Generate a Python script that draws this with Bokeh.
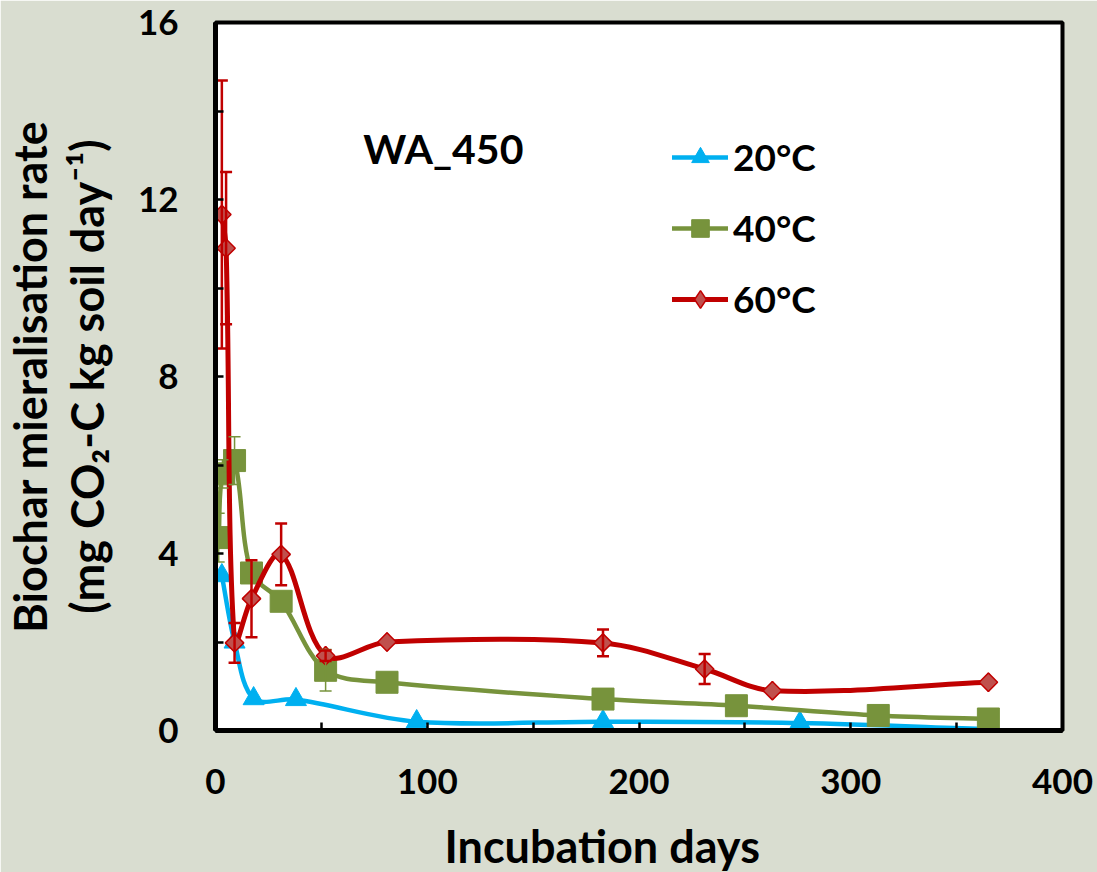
import math
import numpy as np
from bokeh.plotting import figure
from bokeh.models import (ColumnDataSource, FixedTicker, Label, Legend,
                          LegendItem, Whisker, TeeHead, Title)
from bokeh.embed import file_html
from bokeh.resources import INLINE

# ---------------- data ----------------
days_20 = [3, 9, 18, 38, 95, 183, 276, 365]
rate_20 = [3.5, 2.0, 0.72, 0.70, 0.20, 0.20, 0.17, 0.03]

days_40 = [1.5, 3.3, 9, 17, 31, 52, 81, 183, 246, 313, 365]
rate_40 = [4.36, 5.80, 6.10, 3.56, 2.92, 1.36, 1.09, 0.71, 0.56, 0.34, 0.26]
err_40 = [0.55, 0.32, 0.54, 0.0, 0.0, 0.47, 0.0, 0.0, 0.0, 0.0, 0.0]

days_60 = [3, 5, 9, 17, 31, 52, 81, 183, 231, 263, 365]
rate_60 = [11.66, 10.90, 1.98, 2.98, 3.98, 1.69, 2.00, 1.98, 1.39, 0.90, 1.09]
err_60 = [3.03, 1.72, 0.45, 0.87, 0.70, 0.12, 0.0, 0.30, 0.34, 0.0, 0.0]

series_names = ["20°C", "40°C", "60°C"]
x_ticks = [0, 100, 200, 300, 400]
x_minor = [50, 150, 250, 350]
y_ticks = [0, 4, 8, 12, 16]
y_minor = [2, 6, 10, 14]

# ---------------- layout constants ----------------
W_, H_ = 1097, 872
L, R, T, B = 214, 1062, 22, 731          # frame edges (canvas px)
XMAX, YMAX = 400, 16
PXX = (R - L) / XMAX
PXY = (B - T) / YMAX
BG = "#D9DDD0"
FONT = "Lato"

BLUE, GREEN, RED, RED_FILL = "#00B0F0", "#77933C", "#C00000", "#C0504D"


def dx(px):
    return (px - L) / PXX


def dy(py):
    return (B - py) / PXY


def excel_smooth(xs, ys, f=1.0 / 3.0):
    """Bezier control points similar to Excel's smoothed line."""
    X = np.asarray(xs, float) * PXX
    Y = np.asarray(ys, float) * PXY
    n = len(X)
    pts = np.column_stack([X, Y])
    out = {k: [] for k in ("x0", "y0", "x1", "y1", "cx0", "cy0", "cx1", "cy1")}
    for i in range(n - 1):
        p0 = pts[max(i - 1, 0)]
        p1 = pts[i]
        p2 = pts[i + 1]
        p3 = pts[min(i + 2, n - 1)]
        d01 = np.linalg.norm(p1 - p0)
        d12 = np.linalg.norm(p2 - p1)
        d23 = np.linalg.norm(p3 - p2)
        f1 = f * d12 / (d01 + d12) if (d01 + d12) > 0 else 0
        f2 = f * d12 / (d12 + d23) if (d12 + d23) > 0 else 0
        c1 = p1 + f1 * (p2 - p0)
        c2 = p2 - f2 * (p3 - p1)
        out["x0"].append(p1[0] / PXX); out["y0"].append(p1[1] / PXY)
        out["x1"].append(p2[0] / PXX); out["y1"].append(p2[1] / PXY)
        out["cx0"].append(c1[0] / PXX); out["cy0"].append(c1[1] / PXY)
        out["cx1"].append(c2[0] / PXX); out["cy1"].append(c2[1] / PXY)
    return ColumnDataSource(out)


p = figure(width=W_, height=H_, x_range=(0, XMAX), y_range=(0, YMAX),
           output_backend="svg", toolbar_location=None,
           min_border_left=L, min_border_right=W_ - R,
           min_border_top=T, min_border_bottom=H_ - B)
p.background_fill_color = "white"
p.border_fill_color = BG
p.outline_line_color = "black"
p.outline_line_width = 4
p.xgrid.visible = False
p.ygrid.visible = False

for ax, tk, mn in ((p.xaxis, x_ticks, x_minor), (p.yaxis, y_ticks, y_minor)):
    ax.ticker = FixedTicker(ticks=tk, minor_ticks=mn)
    ax.axis_line_color = "black"
    ax.axis_line_width = 5
    ax.major_tick_in = 8
    ax.major_tick_out = 0
    ax.minor_tick_in = 8
    ax.minor_tick_out = 0
    ax.major_tick_line_width = 2.5
    ax.minor_tick_line_width = 2.5
    ax.major_label_text_font = FONT
    ax.major_label_text_font_style = "bold"
    ax.major_label_text_font_size = "35px"
    ax.major_label_text_color = "black"
p.xaxis.major_label_standoff = 38
p.yaxis.major_label_standoff = 37

# blank x-axis label only reserves room so the title below sits lower
p.xaxis.axis_label = " "
p.xaxis.axis_label_standoff = 16
p.xaxis.axis_label_text_font_size = "1px"

# second line of the y title as the axis label
p.yaxis.axis_label = "(mg CO\u2082-C kg soil day\u207b\u00b9)"
p.yaxis.axis_label_standoff = 21
p.yaxis.axis_label_text_font = FONT
p.yaxis.axis_label_text_font_style = "bold"
p.yaxis.axis_label_text_font_size = "45px"
p.yaxis.axis_label_text_color = "black"

legend_items = []

# ---- 20 °C
s20 = excel_smooth(days_20, rate_20)
b20 = p.bezier("x0", "y0", "x1", "y1", "cx0", "cy0", "cx1", "cy1", source=s20,
               line_color=BLUE, line_width=4.5, line_cap="round")
m20 = p.scatter(days_20, rate_20, marker="triangle", size=21,
                fill_color=BLUE, line_color=BLUE)
legend_items.append(LegendItem(label=series_names[0], renderers=[b20, m20]))

# ---- 40 °C
s40 = excel_smooth(days_40, rate_40)
b40 = p.bezier("x0", "y0", "x1", "y1", "cx0", "cy0", "cx1", "cy1", source=s40,
               line_color=GREEN, line_width=4.5, line_cap="round")
e40 = [(d, r, e) for d, r, e in zip(days_40, rate_40, err_40) if e > 0]
w40 = ColumnDataSource(dict(x=[a[0] for a in e40],
                            lo=[a[1] - a[2] for a in e40],
                            hi=[a[1] + a[2] for a in e40]))
p.add_layout(Whisker(source=w40, base="x", upper="hi", lower="lo",
                     line_color=GREEN, line_width=1.5, level="glyph",
                     upper_head=TeeHead(size=12, line_color=GREEN, line_width=1.5),
                     lower_head=TeeHead(size=12, line_color=GREEN, line_width=1.5)))
m40 = p.scatter(days_40, rate_40, marker="square", size=22,
                fill_color=GREEN, line_color=GREEN)
legend_items.append(LegendItem(label=series_names[1], renderers=[b40, m40]))

# ---- 60 °C
s60 = excel_smooth(days_60, rate_60)
b60 = p.bezier("x0", "y0", "x1", "y1", "cx0", "cy0", "cx1", "cy1", source=s60,
               line_color=RED, line_width=5, line_cap="round")
e60 = [(d, r, e) for d, r, e in zip(days_60, rate_60, err_60) if e > 0]
w60 = ColumnDataSource(dict(x=[a[0] for a in e60],
                            lo=[a[1] - a[2] for a in e60],
                            hi=[a[1] + a[2] for a in e60]))
p.add_layout(Whisker(source=w60, base="x", upper="hi", lower="lo",
                     line_color=RED, line_width=2.5, level="glyph",
                     upper_head=TeeHead(size=12, line_color=RED, line_width=2.5),
                     lower_head=TeeHead(size=12, line_color=RED, line_width=2.5)))
# diamond used for the legend (sits fully under the rotated squares)
k60 = p.scatter(days_60, rate_60, marker="diamond", size=18,
                fill_color=RED_FILL, line_color=RED, line_width=1.5)
m60 = p.scatter(days_60, rate_60, marker="square", angle=math.pi / 4, size=13,
                fill_color=RED_FILL, line_color=RED, line_width=1.5)
legend_items.append(LegendItem(label=series_names[2], renderers=[b60, k60]))

legend = Legend(items=legend_items, location=(671 - L, B - 322),
                padding=0, margin=0, spacing=26,
                glyph_width=56, glyph_height=44, label_standoff=5,
                label_text_font=FONT, label_text_font_style="bold",
                label_text_font_size="37px", label_text_color="black",
                border_line_color=None, background_fill_alpha=0)
p.add_layout(legend)

# ---- texts
p.add_layout(Label(x=dx(362), y=dy(148), text="WA_450",
                   text_align="left", text_baseline="alphabetic",
                   text_font=FONT, text_font_style="bold",
                   text_font_size="41px", text_color="black"))

def title(text, side, size, standoff, align="center", offset=0):
    p.add_layout(Title(text=text, align=align, offset=offset, standoff=standoff,
                       vertical_align="bottom",
                       text_font=FONT, text_font_style="bold",
                       text_font_size=f"{size}px", text_color="black"), side)

title("Incubation days", "below", 45, 0, align="left", offset=229)
title("Biochar mieralisation rate", "left", 45, 0)

open("out.html", "w").write(file_html(p, INLINE))
